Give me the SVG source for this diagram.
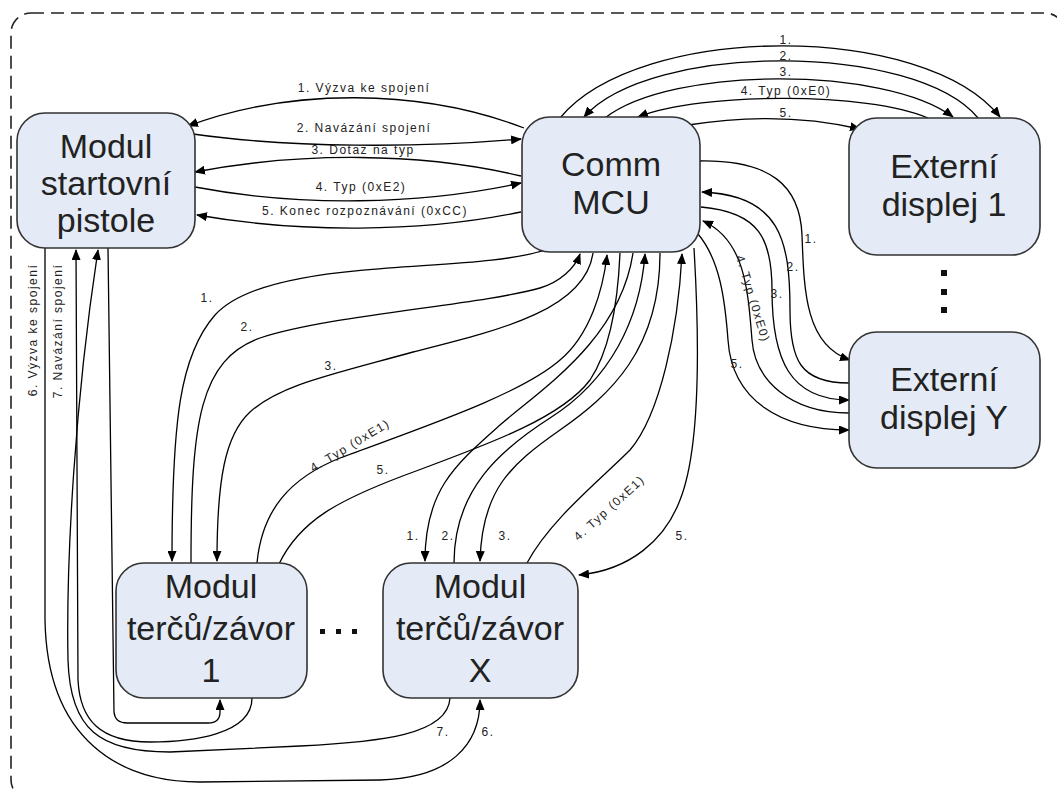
<svg xmlns="http://www.w3.org/2000/svg" width="1057" height="792" viewBox="0 0 1057 792">
<defs>
<marker id="ah" markerUnits="userSpaceOnUse" markerWidth="11" markerHeight="9" refX="10" refY="4.5" orient="auto">
<path d="M0,0 L11,4.5 L0,9 z" fill="#000"/>
</marker>
<style>
.node rect{fill:#e4ebf6;stroke:#333;stroke-width:1.6}
.nt{font-family:"Liberation Sans",Arial,sans-serif;font-size:34px;fill:#222;text-anchor:middle}
.c path{fill:none;stroke:#000;stroke-width:1.3}
.c path.a{marker-end:url(#ah)}
.lb{font-family:"Liberation Sans",Arial,sans-serif;font-size:12px;letter-spacing:1.5px;fill:#222;text-anchor:middle}
.dot{fill:#111}
</style>
</defs>
<rect x="0" y="0" width="1057" height="792" fill="#fff"/>
<rect x="11" y="13" width="1054" height="787" rx="20" fill="none" stroke="#222" stroke-width="1.6" stroke-dasharray="13,7"/>

<g class="c" id="connectors">
<!-- pistole - MCU -->
<path class="a" d="M524,128 C420,88 290,88 188,126"/>
<path class="a" d="M193,134 C290,148 420,148 521,139"/>
<path class="a" d="M521,176 C420,152 300,152 195,172"/>
<path class="a" d="M195,187 C300,207 420,205 521,183"/>
<path class="a" d="M521,212 C420,233 300,233 197,215"/>
<!-- MCU - Ext 1 -->
<path class="a" d="M560,118 C640,22 925,22 1000,117"/>
<path class="a" d="M978,118 C915,42 650,42 584,117"/>
<path class="a" d="M605,118 C672,66 885,66 953,117"/>
<path class="a" d="M928,118 C868,92 702,92 638,117"/>
<path class="a" d="M688,125 C745,116 805,116 860,129"/>
<!-- MCU - Ext Y -->
<path class="a" d="M700,161 C770,160 800,185 802,235 C804,290 805,345 850,360"/>
<path class="a" d="M849,383 C800,383 790,360 790,310 C790,240 780,195 702,192"/>
<path class="a" d="M701,207 C760,212 772,240 772,290 C772,360 790,400 849,400"/>
<path class="a" d="M849,413 C790,413 755,380 752,340 C748,290 745,240 703,221"/>
<path class="a" d="M698,234 C720,260 725,300 728,340 C732,400 780,430 849,430"/>
<!-- MCU - T1 -->
<path class="a" d="M545,250 C470,275 270,255 215,315 C180,355 172,420 172,561"/>
<path class="a" d="M191,563 C191,420 200,360 260,338 C330,315 480,305 540,288 C560,282 575,268 580,254"/>
<path class="a" d="M593,253 C585,310 500,330 413,352 C330,375 280,385 250,412 C225,435 217,480 217,561"/>
<path class="a" d="M257,563 C262,510 290,478 340,458 C420,428 520,395 560,360 C590,335 603,290 607,255"/>
<path d="M279,564 C300,520 340,500 400,477 C480,447 560,420 590,380 C610,350 618,300 620,253"/>
<!-- MCU - TX -->
<path class="a" d="M633,253 C620,340 540,390 500,425 C455,465 425,490 425,561"/>
<path class="a" d="M454,563 C454,490 500,450 550,418 C610,380 640,320 645,254"/>
<path class="a" d="M660,253 C660,350 610,395 560,430 C510,465 482,490 480,561"/>
<path class="a" d="M527,563 C550,520 600,480 630,450 C660,415 678,330 682,254"/>
<path class="a" d="M694,248 C700,350 700,450 680,500 C665,540 630,570 579,575"/>
<!-- pistole - T modules -->
<path class="a" d="M108,248 L114,712 Q115,723 127,723 L208,723 Q220,723 220,712 L220,700"/>
<path class="a" d="M252,698 C252,735 190,742 150,742 C100,742 80,720 78,680 L76,250"/>
<path class="a" d="M450,698 C448,735 380,742 300,746 L170,752 C100,752 70,730 68,660 C66,560 75,400 98,250"/>
<path class="a" d="M45,248 L45,620 C47,740 120,782 200,782 L380,780 C450,778 480,745 480,700"/>
</g>

<g id="labels">
<text class="lb" x="364" y="92">1. Výzva ke spojení</text>
<text class="lb" x="364" y="132">2. Navázání spojení</text>
<text class="lb" x="363" y="154">3. Dotaz na typ</text>
<text class="lb" x="361" y="191">4. Typ (0xE2)</text>
<text class="lb" x="365" y="215">5. Konec rozpoznávání (0xCC)</text>
<text class="lb" x="786" y="44">1.</text>
<text class="lb" x="786" y="60">2.</text>
<text class="lb" x="786" y="76">3.</text>
<text class="lb" x="786" y="95">4. Typ (0xE0)</text>
<text class="lb" x="786" y="117">5.</text>
<text class="lb" x="811" y="243">1.</text>
<text class="lb" x="793" y="271">2.</text>
<text class="lb" x="777" y="298">3.</text>
<text class="lb" x="737" y="368">5.</text>
<text class="lb" transform="translate(749,300) rotate(73)">4. Typ (0xE0)</text>
<text class="lb" x="207" y="302">1.</text>
<text class="lb" x="247" y="331">2.</text>
<text class="lb" x="331" y="370">3.</text>
<text class="lb" x="383" y="474">5.</text>
<text class="lb" transform="translate(352,449) rotate(-31)">4. Typ (0xE1)</text>
<text class="lb" x="413" y="540">1.</text>
<text class="lb" x="448" y="540">2.</text>
<text class="lb" x="505" y="540">3.</text>
<text class="lb" x="682" y="540">5.</text>
<text class="lb" transform="translate(612,511) rotate(-42)">4. Typ (0xE1)</text>
<text class="lb" transform="translate(37,330) rotate(-90)">6. Výzva ke spojení</text>
<text class="lb" transform="translate(62,331) rotate(-90)">7. Navázání spojení</text>
<text class="lb" x="443" y="736">7.</text>
<text class="lb" x="488" y="736">6.</text>
</g>

<g class="node" id="pistole">
<rect x="17" y="113" width="178" height="135" rx="28"/>
<text class="nt" x="106" y="158">Modul</text>
<text class="nt" x="106" y="195">startovní</text>
<text class="nt" x="106" y="232">pistole</text>
</g>
<g class="node" id="mcu">
<rect x="522" y="117" width="178" height="135" rx="28"/>
<text class="nt" x="611" y="176">Comm</text>
<text class="nt" x="611" y="214">MCU</text>
</g>
<g class="node" id="ext1">
<rect x="849" y="118" width="191" height="137" rx="28"/>
<text class="nt" x="944" y="178">Externí</text>
<text class="nt" x="944" y="216">displej 1</text>
</g>
<g class="node" id="extY">
<rect x="849" y="332" width="191" height="136" rx="28"/>
<text class="nt" x="944" y="391">Externí</text>
<text class="nt" x="944" y="429">displej Y</text>
</g>
<g class="node" id="terc1">
<rect x="116" y="563" width="191" height="135" rx="28"/>
<text class="nt" x="211" y="598">Modul</text>
<text class="nt" x="211" y="640">terčů/závor</text>
<text class="nt" x="211" y="682">1</text>
</g>
<g class="node" id="tercX">
<rect x="383" y="563" width="195" height="135" rx="28"/>
<text class="nt" x="480" y="598">Modul</text>
<text class="nt" x="480" y="640">terčů/závor</text>
<text class="nt" x="480" y="682">X</text>
</g>
<g id="dots">
<rect class="dot" x="320" y="629" width="5" height="5"/>
<rect class="dot" x="336" y="629" width="5" height="5"/>
<rect class="dot" x="352" y="629" width="5" height="5"/>
<rect class="dot" x="941" y="270" width="6" height="6"/>
<rect class="dot" x="941" y="289" width="6" height="6"/>
<rect class="dot" x="941" y="307" width="6" height="6"/>
</g>
</svg>
